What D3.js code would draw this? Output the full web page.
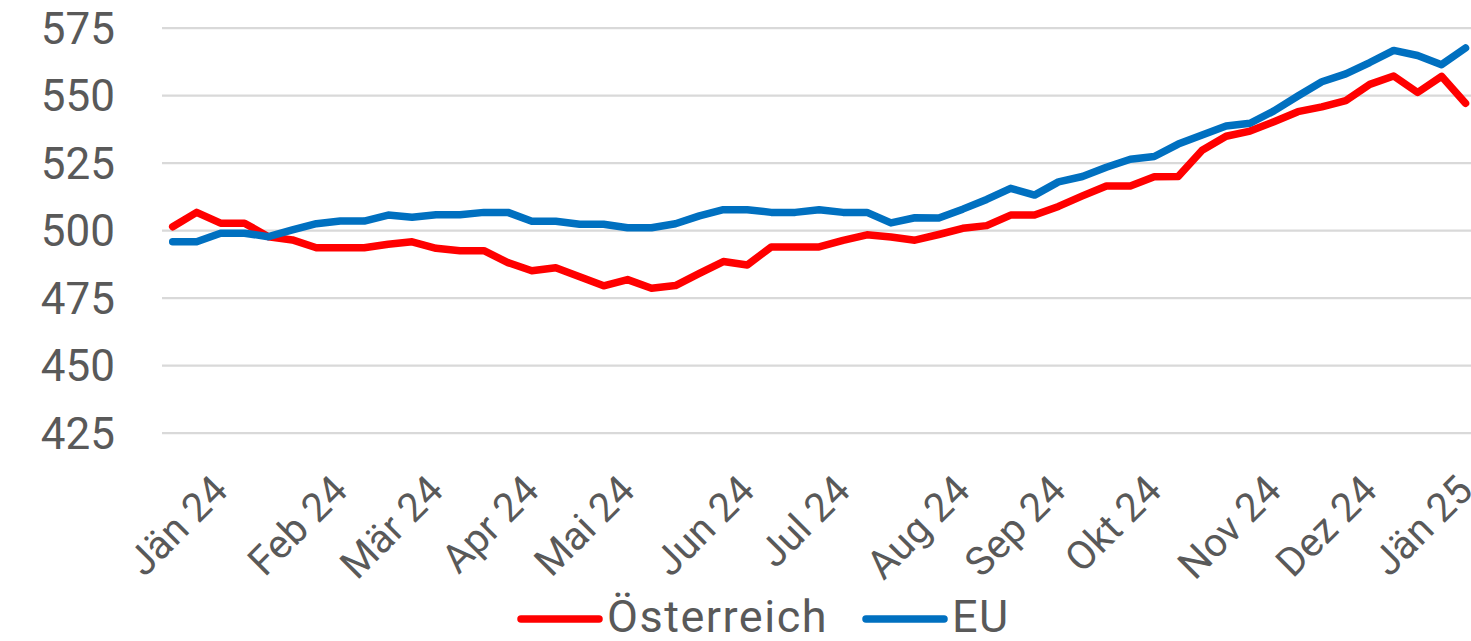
<!DOCTYPE html>
<html lang="de">
<head>
<meta charset="utf-8">
<title>Österreich vs EU</title>
<script src="https://cdn.jsdelivr.net/npm/d3@7"></script>
<style>
  html, body { margin: 0; padding: 0; background: #fff; }
  svg { display: block; }
  text { font-family: Roboto, "Noto Sans", sans-serif; fill: #595959; }
</style>
</head>
<body>
<svg id="chart" width="1471" height="641"></svg>
<script>
/** weekly categories, only the first week of each month carries a label */
var categories = [
  "", "", "Jän 24", "", "", "", "", "Feb 24", "", "", "", "Mär 24", "", "", "",
  "Apr 24", "", "", "", "Mai 24", "", "", "", "", "Jun 24", "", "", "", "Jul 24",
  "", "", "", "", "Aug 24", "", "", "", "Sep 24", "", "", "", "Okt 24", "", "",
  "", "", "Nov 24", "", "", "", "Dez 24", "", "", "", "Jän 25"
];

var austria = [
  501.3, 506.6, 502.6, 502.6, 497.6, 496.4, 493.5, 493.5, 493.5, 494.8,
  495.7, 493.3, 492.4, 492.4, 488.0, 485.0, 486.1, 482.8, 479.4, 481.7,
  478.5, 479.5, 484.0, 488.4, 487.1, 493.8, 493.8, 493.8, 496.2, 498.3,
  497.5, 496.3, 498.4, 500.7, 501.7, 505.6, 505.6, 508.8, 512.7, 516.4,
  516.4, 519.8, 519.9, 529.6, 534.8, 536.7, 540.2, 543.9, 545.7, 548.0,
  554.0, 557.1, 551.0, 557.0, 547.0
];

var eu = [
  495.7, 495.7, 498.9, 498.9, 497.6, 500.1, 502.4, 503.4, 503.4, 505.6,
  504.8, 505.7, 505.7, 506.6, 506.6, 503.3, 503.3, 502.2, 502.2, 500.9,
  500.9, 502.4, 505.3, 507.6, 507.6, 506.6, 506.6, 507.6, 506.6, 506.6,
  502.7, 504.6, 504.5, 507.8, 511.4, 515.5, 513.0, 517.9, 519.9, 523.3,
  526.3, 527.3, 531.9, 535.3, 538.6, 539.6, 544.2, 549.7, 555.0, 557.9,
  562.1, 566.6, 564.7, 561.3, 567.5
];

var yTicks = [425, 450, 475, 500, 525, 550, 575];

var seriesNames = ["Österreich", "EU"];
var seriesColors = ["#ff0000", "#0070c0"];

var svg = d3.select("#chart");

var gridLeft = 162,
    gridRight = 1476;

var xScale = d3.scalePoint().domain(d3.range(categories.length)).range([172.7, 1465.5]);
var yScale = d3.scaleLinear().domain([425, 575]).range([432.7, 27.7]);

/** y axis with gridlines */
var yAxis = svg.append("g")
  .attr("transform", "translate(" + gridLeft + ",0)")
  .call(d3.axisLeft(yScale).tickValues(yTicks).tickSize(-(gridRight - gridLeft)).tickPadding(47));
yAxis.select(".domain").remove();
yAxis.selectAll("line").attr("stroke", "#d9d9d9").attr("stroke-width", 2.2);
yAxis.selectAll("text")
  .attr("font-size", 44)
  .attr("font-family", null)
  .attr("dy", "0.35em");

/** x axis labels, rotated */
var labelled = d3.range(categories.length).filter(function(i) { return categories[i] !== ""; });
var xAxis = svg.append("g")
  .attr("transform", "translate(0,432.7)")
  .call(d3.axisBottom(xScale).tickValues(labelled).tickSize(0).tickFormat(function(i) { return categories[i]; }));
xAxis.select(".domain").remove();
xAxis.selectAll("text")
  .attr("font-size", 40)
  .attr("font-family", null)
  .attr("x", 0)
  .attr("y", 0)
  .attr("dy", "0.35em")
  .attr("text-anchor", "end")
  .attr("transform", "translate(-1,50) rotate(-45)");

/** lines */
var line = d3.line()
  .x(function(d, i) { return xScale(i); })
  .y(function(d) { return yScale(d); });

[austria, eu].forEach(function(values, k) {
  svg.append("path")
    .datum(values)
    .attr("fill", "none")
    .attr("stroke", seriesColors[k])
    .attr("stroke-width", 7.5)
    .attr("stroke-linejoin", "round")
    .attr("stroke-linecap", "round")
    .attr("d", line);
});

/** legend */
var legendX = [521, 866];
seriesNames.forEach(function(name, k) {
  var g = svg.append("g").attr("transform", "translate(" + legendX[k] + ",619)");
  g.append("line")
    .attr("x1", 0).attr("x2", 78)
    .attr("stroke", seriesColors[k])
    .attr("stroke-width", 7.5)
    .attr("stroke-linecap", "round");
  g.append("text")
    .attr("x", 86)
    .attr("y", 13)
    .attr("font-size", 45)
    .attr("letter-spacing", 1.5)
    .text(name);
});
</script>
</body>
</html>
